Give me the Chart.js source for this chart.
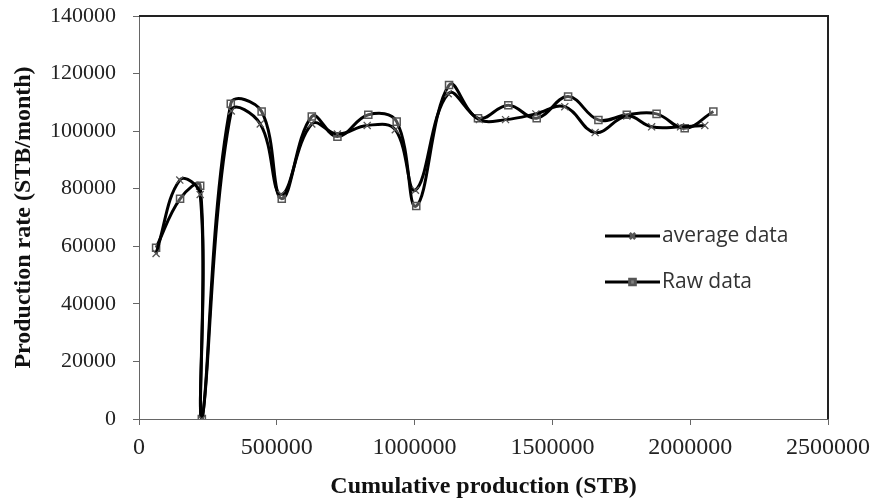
<!DOCTYPE html>
<html>
<head>
<meta charset="utf-8">
<script src="https://cdn.jsdelivr.net/npm/chart.js@4.4.1/dist/chart.umd.min.js"></script>
<style>
  html, body { margin: 0; padding: 0; background: #fff; }
  #wrap { width: 878px; height: 503px; position: relative; }
</style>
</head>
<body>
<div id="wrap"><canvas id="prodChart"></canvas></div>
<script>
// cumulative production (STB) and production rate (STB/month)
var raw_x = [62000, 149000, 222000, 228000, 333000, 445000, 518000, 627000, 720000, 832000, 935000,
             1006000, 1125000, 1230000, 1340000, 1443000, 1557000, 1667000, 1770000, 1878000, 1980000, 2084000];
var raw_y = [59500, 76500, 81000, 0, 109500, 106800, 76500, 105100, 98100, 105700, 103300,
             74000, 116000, 104500, 109000, 104500, 112000, 103900, 105700, 106000, 101000, 106800];

var avg_x = [62000, 148000, 222000, 228000, 335000, 440000, 516000, 627000, 720000, 828000, 930000,
             1003000, 1122000, 1235000, 1330000, 1440000, 1545000, 1655000, 1770000, 1860000, 1965000, 2053000];
var avg_y = [57500, 83000, 78000, 0, 107000, 102500, 78000, 102500, 99000, 102000, 100500,
             79500, 113000, 104000, 104000, 106000, 108500, 99500, 105300, 101500, 101500, 102000];

var x_ticks = [0, 500000, 1000000, 1500000, 2000000, 2500000];
var y_ticks = [0, 20000, 40000, 60000, 80000, 100000, 120000, 140000];

var series_names = ["average data", "Raw data"];

function toPoints(xs, ys) {
    return xs.map((x, i) => ({ x: x, y: ys[i] }));
}

// box round the plot area
const frame = {
    id: 'frame',
    afterDatasetsDraw(chart) {
        const a = chart.chartArea;
        const ctx = chart.ctx;
        ctx.save();
        ctx.strokeStyle = '#222';
        ctx.lineWidth = 2;
        ctx.beginPath();
        ctx.moveTo(a.left, a.top);
        ctx.lineTo(a.right, a.top);
        ctx.lineTo(a.right, a.bottom);
        ctx.stroke();
        ctx.restore();
    }
};

// legend sitting inside the plot, Excel style
const innerLegend = {
    id: 'innerLegend',
    afterDraw(chart) {
        const ctx = chart.ctx;
        const x0 = 605, x1 = 660;
        const rows = [236, 282];
        ctx.save();
        chart.data.datasets.forEach((ds, i) => {
            const y = rows[i];
            ctx.strokeStyle = '#000';
            ctx.lineWidth = 3;
            ctx.beginPath();
            ctx.moveTo(x0, y);
            ctx.lineTo(x1, y);
            ctx.stroke();
            ctx.strokeStyle = '#555';
            ctx.fillStyle = 'rgba(255,255,255,0.5)';
            Chart.helpers.drawPoint(ctx, {
                pointStyle: ds.pointStyle,
                radius: 4,
                borderWidth: 1.2
            }, (x0 + x1) / 2, y);
            ctx.fillStyle = '#333';
            ctx.font = '21px "Open Sans", sans-serif';
            ctx.textBaseline = 'middle';
            ctx.fillText(series_names[i], x1 + 2, y);
        });
        ctx.restore();
    }
};

new Chart(document.getElementById('prodChart'), {
    type: 'scatter',
    data: {
        datasets: [{
            label: series_names[0],
            data: toPoints(avg_x, avg_y),
            showLine: true,
            borderColor: '#000',
            borderWidth: 3,
            tension: 0.4,
            pointStyle: 'crossRot',
            pointRadius: 5,
            pointBorderColor: '#555',
            pointBorderWidth: 1.3,
            pointBackgroundColor: 'rgba(0,0,0,0)'
        }, {
            label: series_names[1],
            data: toPoints(raw_x, raw_y),
            showLine: true,
            borderColor: '#000',
            borderWidth: 3,
            tension: 0.4,
            pointStyle: 'rect',
            pointRadius: 5,
            pointBorderColor: '#555',
            pointBorderWidth: 1.5,
            pointBackgroundColor: 'rgba(255,255,255,0.3)'
        }]
    },
    options: {
        responsive: true,
        maintainAspectRatio: false,
        animation: false,
        layout: { padding: { left: 0, top: 16, right: 50, bottom: 0 } },
        plugins: {
            legend: { display: false },
            tooltip: { enabled: false }
        },
        scales: {
            x: {
                type: 'linear',
                min: 0,
                max: 2500000,
                afterBuildTicks: s => { s.ticks = x_ticks.map(v => ({ value: v })); },
                afterFit: s => { s.height = 84; s.paddingLeft = 0; s.paddingRight = 0; },
                grid: { drawOnChartArea: false, tickLength: 6, color: '#666' },
                border: { color: '#666', width: 1 },
                ticks: {
                    color: '#222',
                    padding: 8,
                    maxRotation: 0,
                    font: { family: '"Liberation Serif", serif', size: 24 },
                    callback: v => String(v)
                },
                title: {
                    display: true,
                    text: 'Cumulative production (STB)',
                    color: '#111',
                    padding: { top: 4, bottom: 2 },
                    font: { family: '"Liberation Serif", serif', size: 24, weight: 'bold' }
                }
            },
            y: {
                min: 0,
                max: 140000,
                afterBuildTicks: s => { s.ticks = y_ticks.map(v => ({ value: v })); },
                afterFit: s => { s.width = 139; s.paddingTop = 0; s.paddingBottom = 0; },
                grid: { drawOnChartArea: false, tickLength: 6, color: '#666' },
                border: { color: '#666', width: 1 },
                ticks: {
                    color: '#222',
                    padding: 17,
                    font: { family: '"Liberation Serif", serif', size: 22 },
                    callback: v => String(v)
                },
                title: {
                    display: true,
                    text: 'Production rate (STB/month)',
                    color: '#111',
                    padding: { top: 9, bottom: 4 },
                    font: { family: '"Liberation Serif", serif', size: 24, weight: 'bold' }
                }
            }
        }
    },
    plugins: [frame, innerLegend]
});
</script>
</body>
</html>
